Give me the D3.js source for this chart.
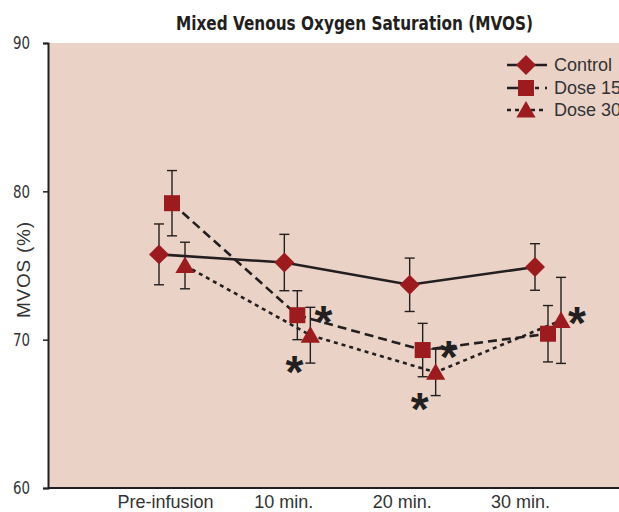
<!DOCTYPE html>
<html>
<head>
<meta charset="utf-8">
<script src="https://cdn.jsdelivr.net/npm/d3@7"></script>
<style>
  html, body { margin: 0; padding: 0; background: #fff; }
  svg { display: block; }
</style>
</head>
<body>
<svg id="canvas"></svg>
<script>
// ===== Data =====
const times = ["Pre-infusion", "10 min.", "20 min.", "30 min."];
const seriesNames = ["Control", "Dose 15", "Dose 30"];

const controlMean = [75.75, 75.2, 73.7, 74.9];
const controlErr  = [2.05, 1.9, 1.8, 1.57];
const dose15Mean  = [79.2, 71.65, 69.3, 70.4];
const dose15Err   = [2.2, 1.65, 1.8, 1.9];
const dose30Mean  = [75.0, 70.3, 67.8, 71.3];
const dose30Err   = [1.57, 1.88, 1.57, 2.9];

const yTicks = [60, 70, 80, 90];

// significance stars (series, time, where)
const sigSeries = ["Dose 15", "Dose 30", "Dose 15", "Dose 30", "Dose 30"];
const sigTimes  = ["10 min.", "10 min.", "20 min.", "20 min.", "30 min."];
const sigPlace  = ["right", "below", "right", "below", "right"];

// ===== Basis SVG =====
const W = 619, H = 512;
const svg = d3.select("#canvas").attr("width", W).attr("height", H);

const plotLeft = 48, plotRight = 619, plotTop = 43, plotBottom = 488;
const ink = "#231f20";
const red = "#9b1b1f";
const narrow = "'Liberation Sans Narrow', 'DejaVu Sans Condensed', 'Roboto Condensed', sans-serif";
const sans = "'Liberation Sans', Arial, sans-serif";

const y = d3.scaleLinear().domain([60, 90]).range([plotBottom, plotTop]);
// marker positions and label positions are not on the same grid in the original
const x = d3.scalePoint().domain(times).range([172, 548]);
const xLabel = d3.scalePoint().domain(times).range([165, 520]);
const offset = { "Control": -13, "Dose 15": 0, "Dose 30": 13 };

const series = [
  { name: "Control", mean: controlMean, err: controlErr, dash: null, symbol: d3.symbolSquare, rot: 45 },
  { name: "Dose 15", mean: dose15Mean, err: dose15Err, dash: "9,5", symbol: d3.symbolSquare, rot: 0 },
  { name: "Dose 30", mean: dose30Mean, err: dose30Err, dash: "4,4", symbol: d3.symbolTriangle, rot: 0 }
];

const symSize = { "Control": 200, "Dose 15": 256, "Dose 30": 160 };

// Plot background
svg.append("rect")
  .attr("x", plotLeft).attr("y", plotTop)
  .attr("width", plotRight - plotLeft).attr("height", plotBottom - plotTop)
  .attr("fill", "#ead2c7");

// Title
svg.append("text")
  .attr("x", 176).attr("y", 30)
  .attr("textLength", 357).attr("lengthAdjust", "spacingAndGlyphs")
  .attr("font-family", narrow).attr("font-weight", "bold")
  .attr("font-size", "20px").attr("fill", ink)
  .text("Mixed Venous Oxygen Saturation (MVOS)");

// Y axis
const yAxis = svg.append("g")
  .attr("transform", `translate(${plotLeft},0)`)
  .call(d3.axisLeft(y).tickValues(yTicks).tickSize(5).tickPadding(13));
yAxis.select(".domain").attr("stroke", ink).attr("stroke-width", 2);
yAxis.selectAll(".tick line").attr("stroke", ink).attr("stroke-width", 1.5);
yAxis.selectAll(".tick text")
  .attr("font-family", narrow).attr("font-size", "18px").attr("fill", "#333")
  .attr("textLength", 17).attr("lengthAdjust", "spacingAndGlyphs");

svg.append("text")
  .attr("transform", `translate(30,270) rotate(-90)`)
  .attr("text-anchor", "middle")
  .attr("font-family", sans).attr("font-size", "19px").attr("fill", "#333")
  .attr("textLength", 96)
  .text("MVOS (%)");

// X axis
const xAxis = svg.append("g")
  .attr("transform", `translate(0,${plotBottom})`)
  .call(d3.axisBottom(xLabel).tickSize(0).tickPadding(7));
xAxis.select(".domain").attr("d", `M${plotLeft},0H${plotRight}`).attr("stroke", ink).attr("stroke-width", 2);
xAxis.selectAll(".tick text")
  .attr("font-family", sans).attr("font-size", "18px").attr("fill", "#333");

// Lines
const line = s => d3.line()
  .x((d, i) => x(times[i]) + offset[s.name])
  .y(d => y(d));

svg.selectAll(".series-line")
  .data(series)
  .enter()
  .append("path")
  .attr("class", "series-line")
  .attr("d", s => line(s)(s.mean))
  .attr("fill", "none")
  .attr("stroke", ink)
  .attr("stroke-width", 2.6)
  .attr("stroke-dasharray", s => s.dash);

// Error bars
series.forEach(function (s) {
  const gE = svg.append("g").attr("stroke", ink).attr("stroke-width", 1.4);
  s.mean.forEach(function (m, i) {
    const cx = x(times[i]) + offset[s.name];
    const y1 = y(m + s.err[i]), y2 = y(m - s.err[i]);
    gE.append("line").attr("x1", cx).attr("x2", cx).attr("y1", y1).attr("y2", y2);
    gE.append("line").attr("x1", cx - 5).attr("x2", cx + 5).attr("y1", y1).attr("y2", y1);
    gE.append("line").attr("x1", cx - 5).attr("x2", cx + 5).attr("y1", y2).attr("y2", y2);
  });
});

// Markers
series.forEach(function (s) {
  const sym = d3.symbol().type(s.symbol).size(symSize[s.name]);
  svg.selectAll(".m-" + s.name.replace(" ", ""))
    .data(s.mean)
    .enter()
    .append("path")
    .attr("d", sym)
    .attr("transform", (d, i) => {
      const dy = s.name === "Dose 30" ? 2 : 0;
      return `translate(${x(times[i]) + offset[s.name]},${y(d) + dy}) rotate(${s.rot})`;
    })
    .attr("fill", red);
});

// Significance stars
const starOffset = {
  "right Dose 15": [26, -5],
  "right Dose 30": [16, -9],
  "below Dose 30": [-16, 25]
};
const starSize = 46;
sigSeries.forEach(function (name, k) {
  const s = series.find(d => d.name === name);
  const i = times.indexOf(sigTimes[k]);
  const o = starOffset[sigPlace[k] + " " + name];
  svg.append("text")
    .attr("x", x(times[i]) + offset[name] + o[0])
    .attr("y", y(s.mean[i]) + o[1] + starSize * 0.6)
    .attr("text-anchor", "middle")
    .attr("font-family", sans).attr("font-weight", "bold")
    .attr("font-size", starSize + "px").attr("fill", ink)
    .text("*");
});

// Legend
const legend = svg.append("g").attr("transform", "translate(507,0)");
const legY = [65, 88, 110];
series.forEach(function (s, i) {
  const row = legend.append("g").attr("transform", `translate(0,${legY[i]})`);
  row.append("line")
    .attr("x1", 0).attr("x2", 40)
    .attr("stroke", ink).attr("stroke-width", 2.6)
    .attr("stroke-dasharray", i === 1 ? "14,4,4,6,4,6" : s.dash);
  row.append("path")
    .attr("d", d3.symbol().type(s.symbol).size(symSize[s.name]))
    .attr("transform", `translate(19,${i === 2 ? 2 : 0}) rotate(${s.rot})`)
    .attr("fill", red);
  row.append("text")
    .attr("x", 47).attr("y", 6)
    .attr("font-family", sans).attr("font-size", "18px").attr("fill", "#333")
    .text(s.name);
});
</script>
</body>
</html>
